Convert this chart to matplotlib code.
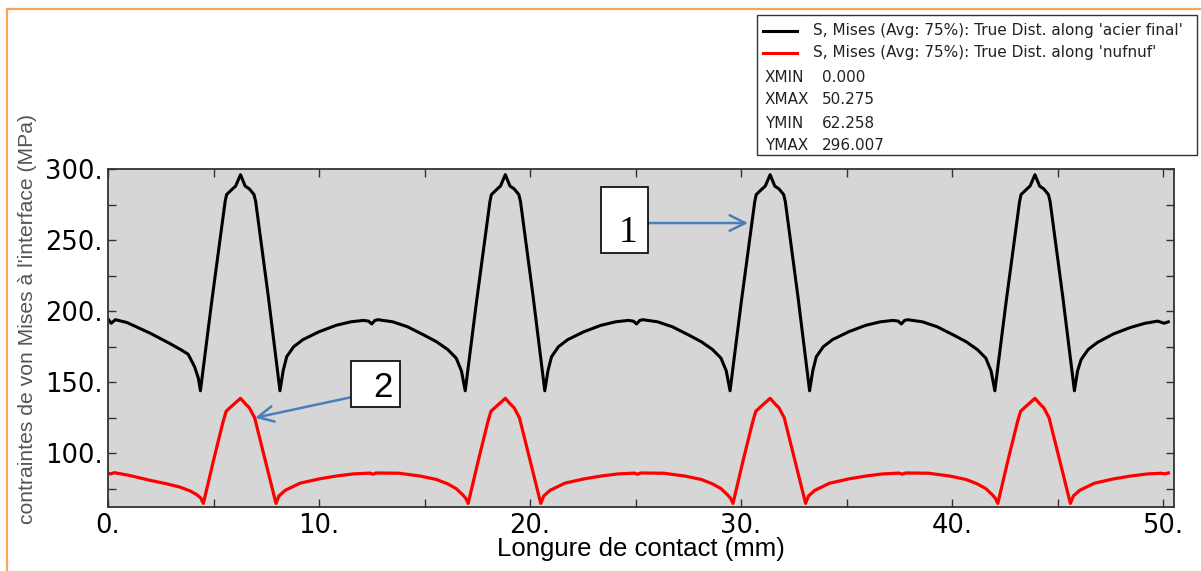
import numpy as np
import matplotlib
matplotlib.use("Agg")
import matplotlib.pyplot as plt
from matplotlib.patches import Rectangle
from matplotlib.lines import Line2D
from matplotlib.ticker import FuncFormatter, MultipleLocator

# S, Mises along 'acier final' (black)
x_acier = [0.0, 0.15, 0.35, 0.9, 2.0, 2.9, 3.5, 3.8, 4.1, 4.28, 4.38, 4.9, 5.55, 5.62, 5.9, 6.05,
           6.28, 6.5, 6.7, 6.92, 7.0, 7.6, 8.15, 8.3, 8.47, 8.8, 9.24, 10.0, 10.8, 11.5, 12.1,
           12.35, 12.5, 12.65, 12.8, 13.5, 14.2, 15.0, 15.57, 16.1, 16.5, 16.75, 16.93,
           17.45, 18.1, 18.17, 18.45, 18.6, 18.83, 19.05, 19.25, 19.47, 19.55, 20.15, 20.7,
           20.85, 21.02, 21.35, 21.79, 22.55, 23.35, 24.05, 24.65, 24.9, 25.05, 25.2, 25.35,
           26.05, 26.75, 27.55, 28.12, 28.65, 29.05, 29.3, 29.48,
           30.0, 30.65, 30.72, 31.0, 31.15, 31.38, 31.6, 31.8, 32.02, 32.1, 32.7, 33.25,
           33.4, 33.57, 33.9, 34.34, 35.1, 35.9, 36.6, 37.2, 37.45, 37.6, 37.75, 37.9,
           38.6, 39.3, 40.1, 40.67, 41.2, 41.6, 41.85, 42.03,
           42.55, 43.2, 43.27, 43.55, 43.7, 43.93, 44.15, 44.35, 44.57, 44.65, 45.25, 45.8,
           45.95, 46.12, 46.45, 46.89, 47.65, 48.45, 49.15, 49.75, 50.05, 50.25]
y_acier = [194.4, 191.5, 194.0, 192.0, 184.5, 177.5, 172.5, 169.7, 161.0, 153.0, 144.0, 205.0, 277.0, 282.0, 286.0, 288.0,
           296.0, 288.0, 286.0, 282.0, 277.0, 210.0, 144.0, 158.0, 168.0, 175.0, 180.0, 185.5, 190.0, 192.5, 193.5,
           193.0, 191.0, 193.5, 194.0, 192.5, 189.0, 183.0, 178.5, 173.0, 167.0, 158.0, 144.0,
           205.0, 277.0, 282.0, 286.0, 288.0, 296.0, 288.0, 286.0, 282.0, 277.0, 210.0, 144.0,
           158.0, 168.0, 175.0, 180.0, 185.5, 190.0, 192.5, 193.5, 193.0, 191.0, 193.5, 194.0,
           192.5, 189.0, 183.0, 178.5, 173.0, 167.0, 158.0, 144.0,
           205.0, 277.0, 282.0, 286.0, 288.0, 296.0, 288.0, 286.0, 282.0, 277.0, 210.0, 144.0,
           158.0, 168.0, 175.0, 180.0, 185.5, 190.0, 192.5, 193.5, 193.0, 191.0, 193.5, 194.0,
           192.5, 189.0, 183.0, 178.5, 173.0, 167.0, 158.0, 144.0,
           205.0, 277.0, 282.0, 286.0, 288.0, 296.0, 288.0, 286.0, 282.0, 277.0, 210.0, 144.0,
           158.0, 166.0, 173.0, 178.0, 184.0, 188.5, 191.5, 193.0, 191.5, 192.5]

# S, Mises along 'nufnuf' (red)
x_nufnuf = [0.0, 0.12, 0.3, 1.0, 2.0, 2.8, 3.4, 3.9, 4.2, 4.4, 4.52, 5.0, 5.45, 5.6, 5.85, 6.28,
            6.5, 6.7, 6.95, 7.96, 8.1, 8.4, 9.1, 10.0, 10.8, 11.6, 12.4, 12.56, 12.7, 13.8, 14.8,
            15.57, 16.1, 16.5, 16.8, 16.95, 17.07,
            17.55, 18.0, 18.15, 18.4, 18.83, 19.05, 19.25, 19.5, 20.51, 20.65, 20.95, 21.65,
            22.55, 23.35, 24.15, 24.95, 25.1, 25.25, 26.35, 27.35, 28.12, 28.65, 29.05, 29.35,
            29.5, 29.62,
            30.1, 30.55, 30.7, 30.95, 31.38, 31.6, 31.8, 32.05, 33.06, 33.2, 33.5, 34.2,
            35.1, 35.9, 36.7, 37.5, 37.65, 37.8, 38.9, 39.9, 40.67, 41.2, 41.6, 41.9,
            42.05, 42.17,
            42.65, 43.1, 43.25, 43.5, 43.93, 44.15, 44.35, 44.6, 45.61, 45.75, 46.05, 46.75,
            47.65, 48.45, 49.25, 49.9, 50.1, 50.25]
y_nufnuf = [86.1, 85.5, 86.4, 84.5, 81.0, 78.5, 76.3, 73.5, 71.0, 68.5, 64.8, 95.0, 122.0, 129.6, 133.0, 138.7,
            135.0, 132.0, 125.0, 64.8, 70.0, 74.0, 79.0, 82.0, 84.0, 85.5, 86.1, 85.3, 86.2, 86.0, 84.0,
            81.6, 78.5, 75.2, 71.0, 68.5, 64.8,
            95.0, 122.0, 129.6, 133.0, 138.7, 135.0, 132.0, 125.0, 64.8, 70.0, 74.0, 79.0,
            82.0, 84.0, 85.5, 86.1, 85.3, 86.2, 86.0, 84.0, 81.6, 78.5, 75.2, 71.0,
            68.5, 64.8,
            95.0, 122.0, 129.6, 133.0, 138.7, 135.0, 132.0, 125.0, 64.8, 70.0, 74.0, 79.0,
            82.0, 84.0, 85.5, 86.1, 85.3, 86.2, 86.0, 84.0, 81.6, 78.5, 75.2, 71.0,
            68.5, 64.8,
            95.0, 122.0, 129.6, 133.0, 138.7, 135.0, 132.0, 125.0, 64.8, 70.0, 74.0, 79.0,
            82.0, 84.0, 85.5, 86.0, 85.6, 86.2]

legend_labels = ["S, Mises (Avg: 75%): True Dist. along 'acier final'",
                 "S, Mises (Avg: 75%): True Dist. along 'nufnuf'"]
limit_names = ["XMIN", "XMAX", "YMIN", "YMAX"]
limit_values = ["0.000", "50.275", "62.258", "296.007"]

W, H = 1201, 571
fig = plt.figure(figsize=(W / 100, H / 100), dpi=100)
fig.patch.set_facecolor("white")

def fx(px):
    return px / W

def fy(py):
    return 1 - py / H

# orange frame (top + left)
fig.add_artist(Line2D([fx(7), 1.0], [fy(9), fy(9)], color="#f7a556", lw=1.6))
fig.add_artist(Line2D([fx(7), fx(7)], [fy(9), 0.0], color="#f7a556", lw=1.6))

ax = fig.add_axes([fx(108), fy(507), fx(1174) - fx(108), fy(169) - fy(507)])
ax.set_facecolor("#d6d6d6")
ax.plot(x_acier, y_acier, color="black", lw=2.2, solid_joinstyle="round")
ax.plot(x_nufnuf, y_nufnuf, color="#ff0000", lw=2.3, solid_joinstyle="round")
ax.set_xlim(0, 50.52)
ax.set_ylim(62.258, 300)

ax.xaxis.set_major_locator(MultipleLocator(10))
ax.xaxis.set_minor_locator(MultipleLocator(5))
ax.yaxis.set_major_locator(MultipleLocator(50))
ax.yaxis.set_minor_locator(MultipleLocator(25))
fmt = FuncFormatter(lambda v, p: "%d." % v)
ax.xaxis.set_major_formatter(fmt)
ax.yaxis.set_major_formatter(fmt)
ax.tick_params(which="both", direction="in", top=True, right=True, color="#333333",
               length=6, width=1.0)
ax.tick_params(which="major", labelsize=18.5, pad=4)
for lab in ax.get_xticklabels() + ax.get_yticklabels():
    lab.set_family("DejaVu Sans")
for sp in ax.spines.values():
    sp.set_color("#333333")
    sp.set_linewidth(1.3)

fig.text(fx(641), fy(549), "Longure de contact (mm)", ha="center", va="center",
         fontsize=18.5, family="Liberation Sans")
fig.text(fx(28), fy(319), "contraintes de von Mises à l'interface (MPa)", rotation=90,
         ha="center", va="center", fontsize=15.2, family="Liberation Sans", color="#555555")

# legend box
fig.add_artist(Rectangle((fx(757), fy(155)), fx(1197) - fx(757), fy(15) - fy(155),
                         transform=fig.transFigure, facecolor="white", edgecolor="#333333", lw=1.0))
row_y = [31, 53, 77, 100, 123, 145]
fig.add_artist(Line2D([fx(763), fx(797)], [fy(row_y[0])] * 2, color="black", lw=2.2))
fig.add_artist(Line2D([fx(763), fx(797)], [fy(row_y[1])] * 2, color="#ff0000", lw=2.2))
for i, lab in enumerate(legend_labels):
    fig.text(fx(813), fy(row_y[i]), lab, ha="left", va="center", fontsize=11,
             family="DejaVu Sans", color="#222222")
for i, (n, v) in enumerate(zip(limit_names, limit_values)):
    fig.text(fx(765), fy(row_y[i + 2]), n, ha="left", va="center", fontsize=11,
             family="DejaVu Sans", color="#222222")
    fig.text(fx(822), fy(row_y[i + 2]), v, ha="left", va="center", fontsize=11,
             family="DejaVu Sans", color="#222222")

# callouts
blue = "#4a7ebb"
ax.add_patch(Rectangle((23.35, 240.8), 2.23, 46.7, facecolor="white", edgecolor="black",
                       lw=1.2, zorder=5, clip_on=False))
ax.text(24.63, 255.0, "1", ha="center", va="center", fontsize=27,
        family="Liberation Serif", zorder=6)
ax.annotate("", xy=(30.33, 262), xytext=(25.58, 262), zorder=4,
            arrowprops=dict(arrowstyle="->", color=blue, lw=1.8, mutation_scale=28,
                            shrinkA=0, shrinkB=0))
ax.add_patch(Rectangle((11.5, 132.4), 2.33, 32.6, facecolor="white", edgecolor="black",
                       lw=1.2, zorder=5, clip_on=False))
ax.text(13.05, 146.0, "2", ha="center", va="center", fontsize=25,
        family="Liberation Sans", zorder=6)
ax.annotate("", xy=(6.97, 125.0), xytext=(11.5, 139.4), zorder=4,
            arrowprops=dict(arrowstyle="->", color=blue, lw=1.8, mutation_scale=28,
                            shrinkA=0, shrinkB=0))

fig.savefig("out.png", dpi=100)
